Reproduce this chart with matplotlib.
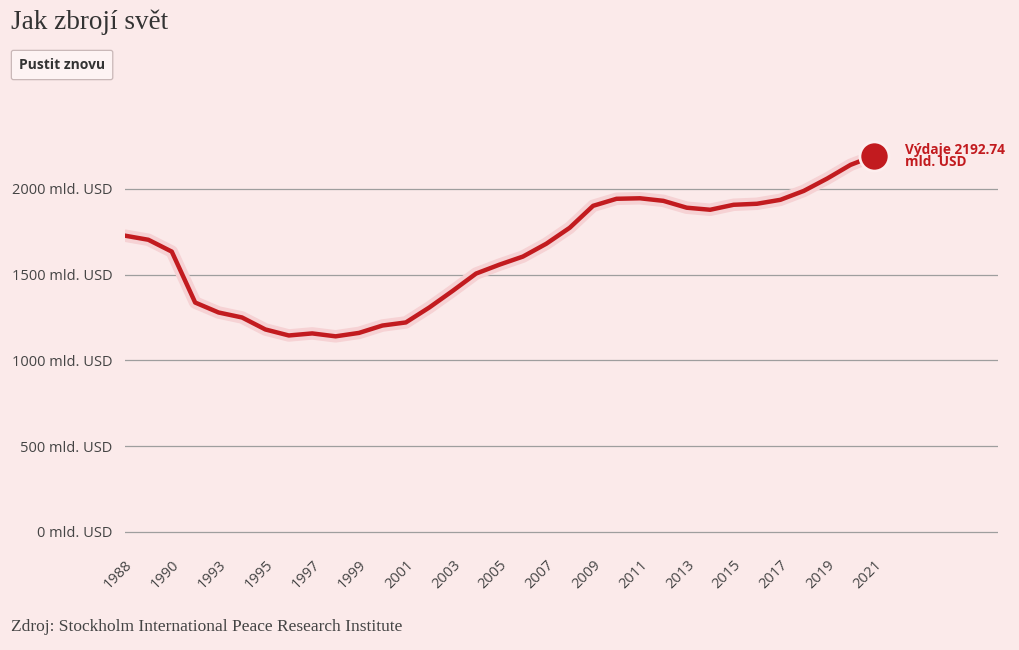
import matplotlib
matplotlib.use("Agg")
import matplotlib.pyplot as plt

# světové výdaje na zbrojení, mld. USD
years = list(range(1989, 2022))
spending = [1727, 1703, 1634, 1337, 1279, 1250, 1180, 1145, 1157, 1140, 1160,
            1203, 1221, 1308, 1405, 1506, 1558, 1605, 1680, 1773, 1901, 1942,
            1945, 1930, 1890, 1878, 1907, 1913, 1936, 1988, 2060, 2140, 2192.74]
tick_years = list(range(1989, 2022, 2))
tick_labels = ["1988", "1990", "1993", "1995", "1997", "1999", "2001", "2003",
               "2005", "2007", "2009", "2011", "2013", "2015", "2017", "2019", "2021"]
y_ticks = [0, 500, 1000, 1500, 2000]

bg = "#fbeaea"
red = "#c21b1f"
sans = ["Open Sans", "DejaVu Sans"]
serif = ["Liberation Serif", "DejaVu Serif"]

fig = plt.figure(figsize=(10.2, 6.5), dpi=100, facecolor=bg)
ax = fig.add_axes([0.1225, 0.1554, 0.856, 0.686])
ax.set_facecolor(bg)

ax.set_xlim(1989, 2026.3)
ax.set_ylim(-100, 2500)

for v in y_ticks:
    ax.axhline(v, color="#9e9e9e", lw=0.9, zorder=1)

# halo + line
ax.plot(years, spending, color="#f6d2d4", lw=9, solid_capstyle="round",
        solid_joinstyle="round", zorder=2)
ax.plot(years, spending, color=red, lw=3.2, solid_joinstyle="round", zorder=3)
ax.plot(years[-1], spending[-1], "o", ms=21, color=red, mec="#fdeeee", mew=2, zorder=4)

ax.annotate("Výdaje %.2f\nmld. USD" % spending[-1], (years[-1], spending[-1]),
            xytext=(22, 0), textcoords="offset points", va="center", ha="left",
            color=red, fontsize=9.8, fontweight="bold", family=sans, linespacing=0.85)

ax.set_yticks(y_ticks)
ax.set_yticklabels(["%d mld. USD" % v for v in y_ticks], family=sans, fontsize=10.5,
                   color="#444444")
ax.set_xticks(tick_years)
ax.set_xticklabels(tick_labels, rotation=45, ha="right", rotation_mode="anchor",
                   family=sans, fontsize=10.5, color="#444444")
ax.tick_params(length=0, axis="y", pad=9)
ax.tick_params(length=0, axis="x", pad=6)
for s in ax.spines.values():
    s.set_visible(False)

fig.text(11 / 1020, 1 - 22 / 650, "Jak zbrojí svět", family=serif, fontsize=19.5,
         color="#333333", va="center", ha="left")
fig.text(19 / 1020, 1 - 65 / 650, "Pustit znovu", family=sans, fontsize=10,
         fontweight="bold", color="#333333", va="center", ha="left",
         bbox=dict(boxstyle="round,pad=0.55,rounding_size=0.15", fc="#fdf3f3",
                   ec="#c9b8b8", lw=0.9))
fig.text(11 / 1020, 1 - 627 / 650, "Zdroj: Stockholm International Peace Research Institute",
         family=serif, fontsize=12.5, color="#444444", va="center", ha="left")

fig.savefig("out.png", dpi=100, facecolor=bg)
